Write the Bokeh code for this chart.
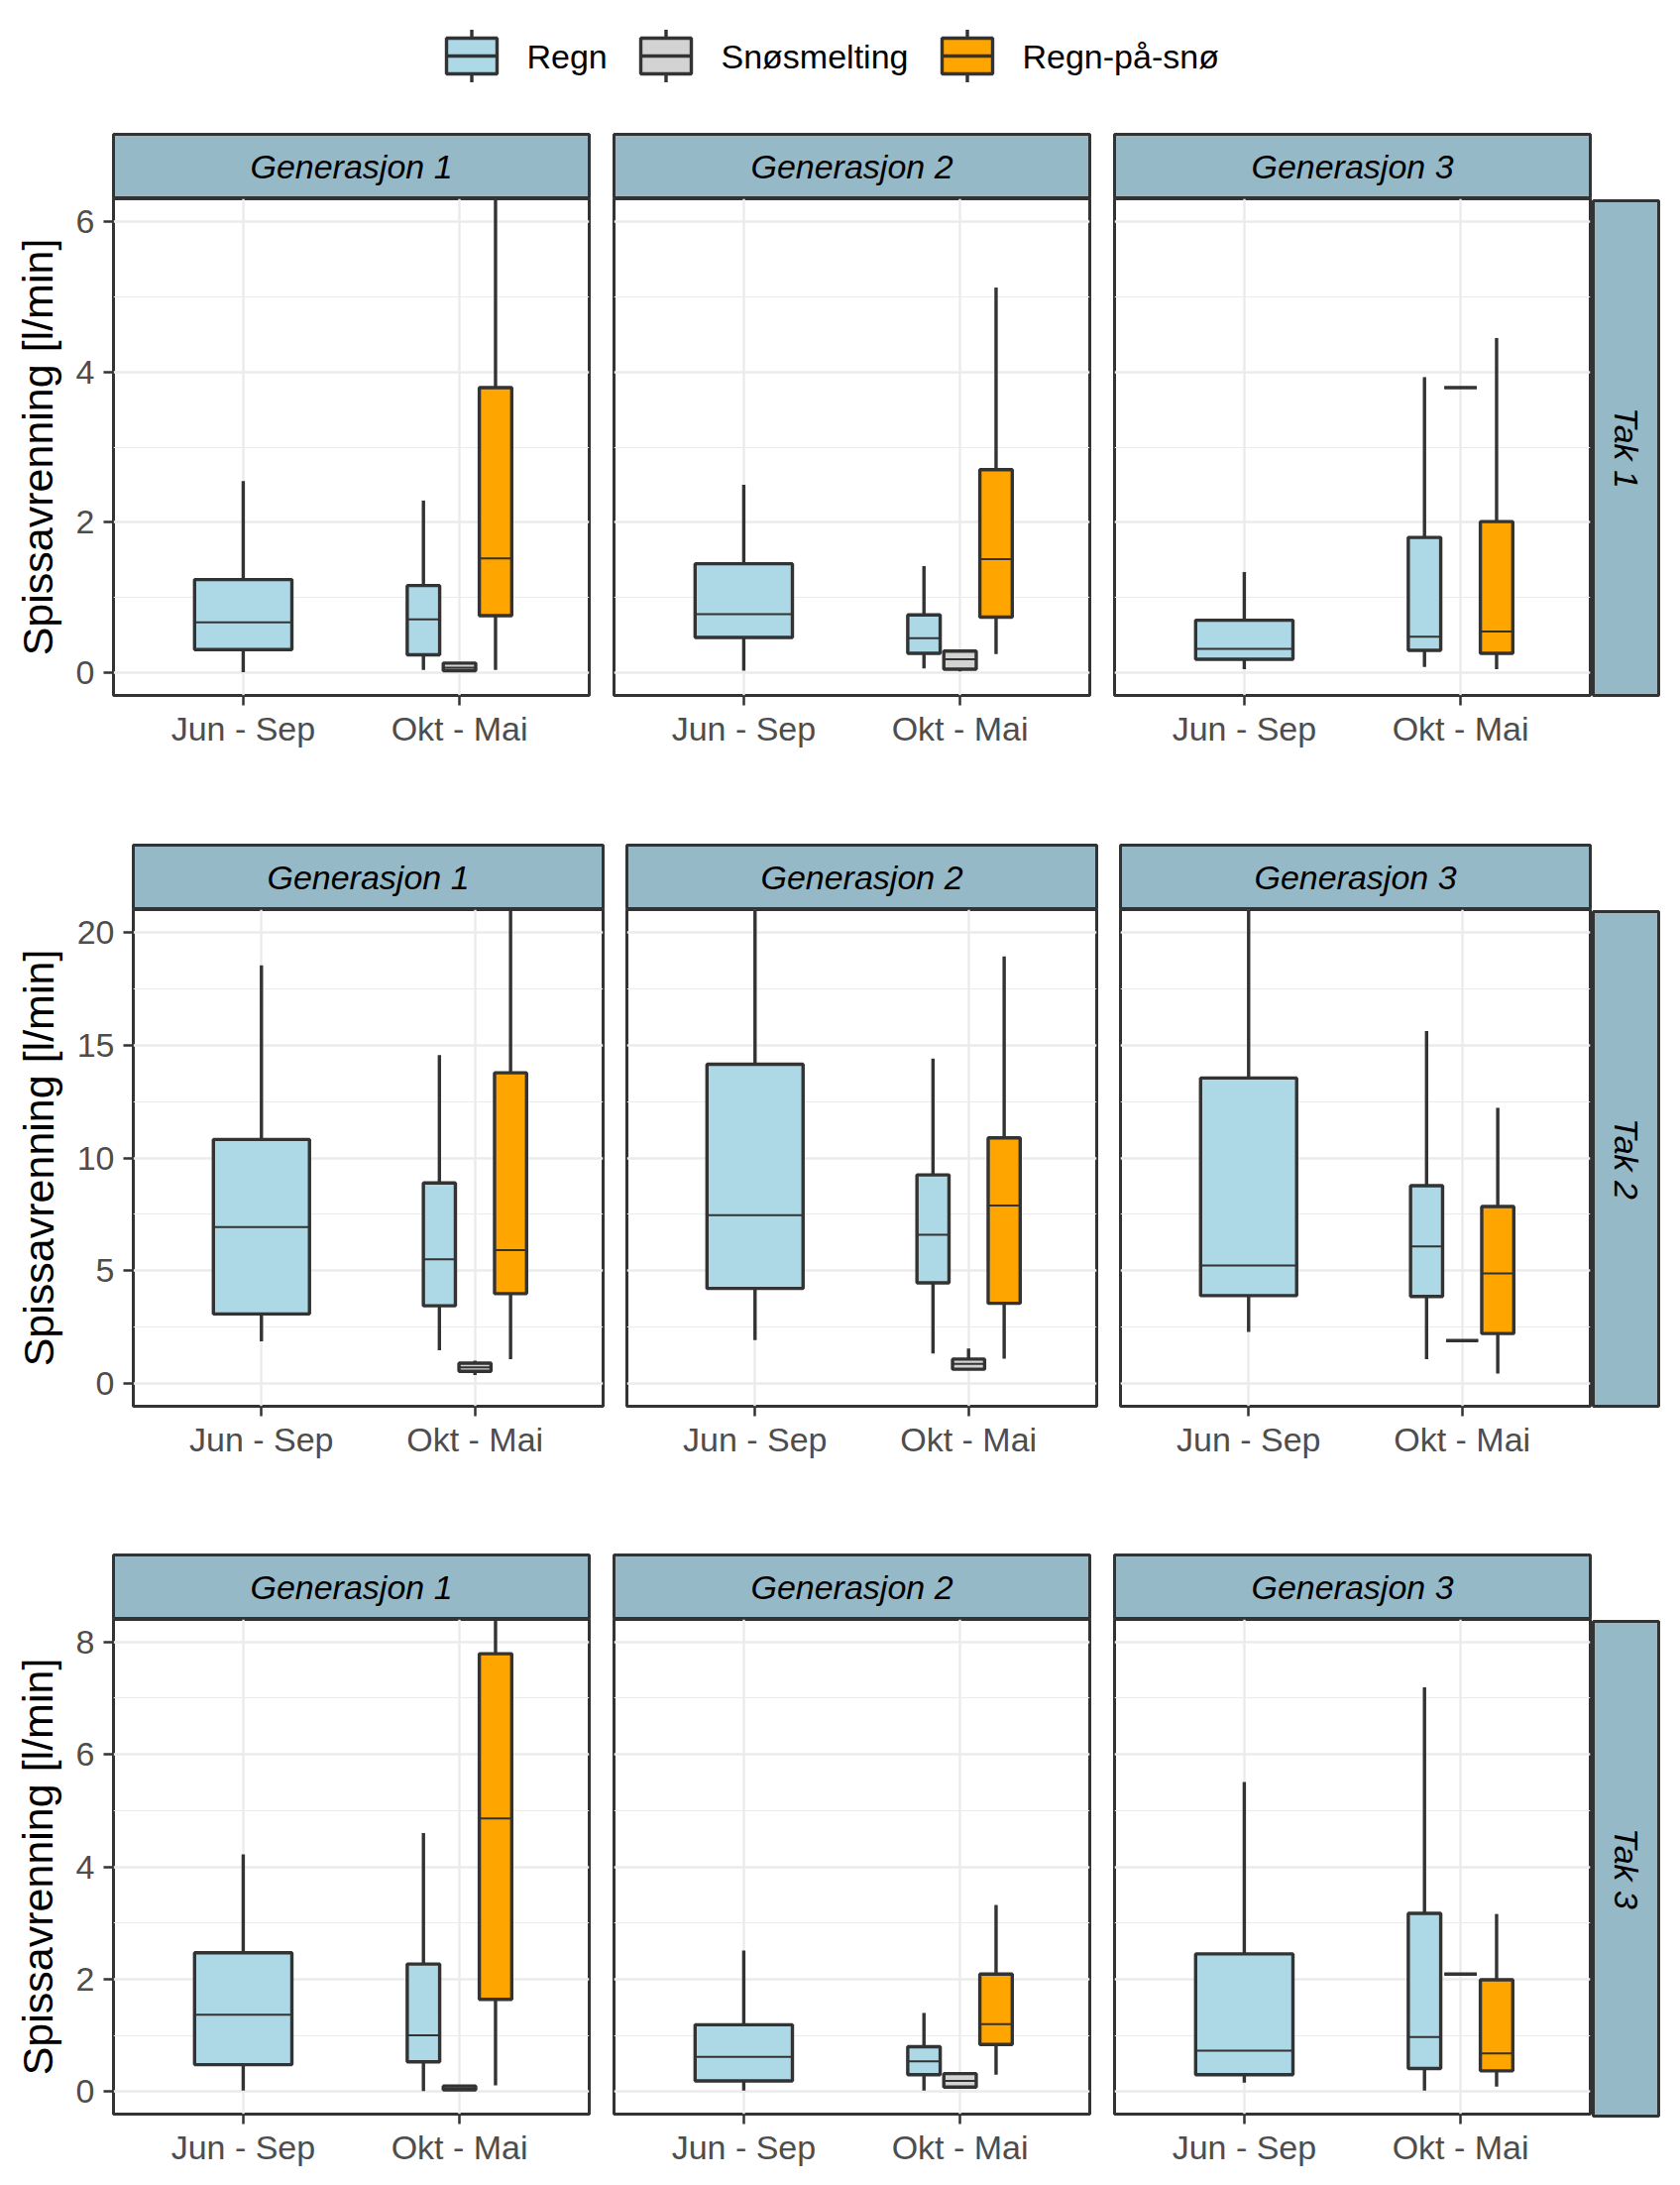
import math
from bokeh.plotting import figure
from bokeh.models import Range1d, FixedTicker, Label, ColumnDataSource, Spacer, Grid
from bokeh.layouts import row, column
from bokeh.embed import file_html
from bokeh.resources import INLINE
from bokeh.core.properties import value

# ---------------- data ----------------
seasons = ["Jun - Sep", "Okt - Mai"]
generations = ["Generasjon 1", "Generasjon 2", "Generasjon 3"]
roofs = ["Tak 1", "Tak 2", "Tak 3"]
event_types = ["Regn", "Snøsmelting", "Regn-på-snø"]
type_colors = ["#ADD8E6", "#D3D3D3", "#FFA500"]

y_limits = [(0, 6), (0, 20), (0, 8)]
y_major = [[0, 2, 4, 6], [0, 5, 10, 15, 20], [0, 2, 4, 6, 8]]
y_minor = [[1, 3, 5], [2.5, 7.5, 12.5, 17.5], [1, 3, 5, 7]]

# one entry per box: roof, generation, season, event type
box_roof = ["Tak 1"] * 12 + ["Tak 2"] * 12 + ["Tak 3"] * 12
box_gen = (["Generasjon 1"] * 4 + ["Generasjon 2"] * 4 + ["Generasjon 3"] * 4) * 3
box_season = ["Jun - Sep", "Okt - Mai", "Okt - Mai", "Okt - Mai"] * 9
box_type = ["Regn", "Regn", "Snøsmelting", "Regn-på-snø"] * 9

box_lo = [0.01, 0.04, 0.02, 0.04,   0.03, 0.06, 0.02, 0.25,   0.05, 0.08, 3.79, 0.05,
          1.88, 1.48, 0.38, 1.09,   1.93, 1.34, 0.64, 1.11,   2.29, 1.09, 1.91, 0.45,
          0.02, 0.01, 0.02, 0.11,   0.02, 0.02, 0.08, 0.30,   0.16, 0.02, 2.09, 0.09]
box_q1 = [0.31, 0.24, 0.03, 0.76,   0.47, 0.26, 0.05, 0.74,   0.18, 0.30, 3.79, 0.26,
          3.09, 3.45, 0.55, 3.99,   4.22, 4.47, 0.64, 3.56,   3.90, 3.86, 1.91, 2.22,
          0.48, 0.53, 0.03, 1.64,   0.19, 0.30, 0.08, 0.84,   0.30, 0.41, 2.09, 0.37]
box_med = [0.67, 0.71, 0.07, 1.52,  0.78, 0.46, 0.18, 1.51,   0.32, 0.48, 3.79, 0.55,
           6.94, 5.51, 0.72, 5.92,  7.46, 6.60, 0.88, 7.89,   5.24, 6.08, 1.91, 4.88,
           1.37, 1.00, 0.06, 4.86,  0.62, 0.54, 0.19, 1.20,   0.73, 0.97, 2.09, 0.68]
box_q3 = [1.24, 1.16, 0.13, 3.79,   1.45, 0.77, 0.29, 2.70,   0.70, 1.80, 3.79, 2.01,
          10.82, 8.89, 0.91, 13.77, 14.15, 9.25, 1.09, 10.89, 13.54, 8.77, 1.91, 7.85,
          2.47, 2.27, 0.10, 7.79,   1.19, 0.80, 0.32, 2.09,   2.45, 3.17, 2.09, 1.99]
box_hi = [2.55, 2.29, 0.14, 7.20,   2.50, 1.42, 0.29, 5.12,   1.34, 3.93, 3.79, 4.45,
          18.53, 14.56, 1.02, 23.50, 22.00, 14.40, 1.56, 18.93, 24.00, 15.62, 1.91, 12.22,
          4.22, 4.60, 0.11, 9.60,   2.51, 1.40, 0.32, 3.32,   5.51, 7.19, 2.09, 3.16]

# ---------------- style / layout ----------------
FONT = "Liberation Sans"
DARK = "#333333"
STRIP_FILL = "#96B9C8"
GRID = "#EBEBEB"
TICK_TEXT = "#4D4D4D"

OFF_X = 9
OFF_Y = 9
LEG_H = 124
STRIP_H = 67
FRAME_H = 501
ROW_BOTTOM = [149, 148, 53]
ROW_LEFT = [105, 125, 105]
ROW_W = [480, 474, 480]
ROW_GAP = [25, 24, 25]
RS_GAP = 3
RS_W = 66
TOTAL_W = 1664
R_PAD = 2
BORDER_W = 3
BOX_LW = 3.4
MED_LW = 2

# dodge positions (ggplot-like: total width 0.5, padding 10%)
N = len(box_lo)
box_x = [0.0] * N
box_w = [0.0] * N
groups = {}
for i in range(N):
    groups.setdefault((box_roof[i], box_gen[i], box_season[i]), []).append(i)
for (rf, gn, se), idxs in groups.items():
    idxs = sorted(idxs, key=lambda j: event_types.index(box_type[j]))
    n = len(idxs)
    slot = 0.5 / n
    for k, j in enumerate(idxs):
        box_x[j] = seasons.index(se) + 1 - 0.25 + slot * (k + 0.5)
        box_w[j] = slot * 0.9


def make_strip(text, w, h, vertical=False, left=2, right=2, top=2, bottom=0):
    s = figure(width=w, height=h, x_range=Range1d(0, 1), y_range=Range1d(0, 1),
               toolbar_location=None, output_backend="svg",
               x_axis_location=None, y_axis_location=None,
               min_border_left=left, min_border_right=right,
               min_border_top=top, min_border_bottom=bottom)
    s.xgrid.visible = False
    s.ygrid.visible = False
    s.background_fill_color = STRIP_FILL
    s.border_fill_color = "white"
    s.outline_line_color = DARK
    s.outline_line_width = BORDER_W
    s.outline_line_alpha = 1
    s.add_layout(Label(x=0.5, y=0.5, text=text, text_align="center",
                       text_baseline="middle", text_font=FONT,
                       text_font_style="italic", text_font_size="34px",
                       text_color="black", angle=-math.pi / 2 if vertical else 0))
    return s


def make_panel(r, g):
    lb = ROW_LEFT[r] if g == 0 else ROW_GAP[r] - R_PAD
    W = ROW_W[r]
    lo_lim, hi_lim = y_limits[r]
    pad = 0.05 * (hi_lim - lo_lim)
    p = figure(width=lb + W + R_PAD, height=FRAME_H + ROW_BOTTOM[r],
               x_range=Range1d(0.4, 2.6), y_range=Range1d(lo_lim - pad, hi_lim + pad),
               toolbar_location=None, output_backend="svg",
               y_axis_location="left" if g == 0 else None,
               min_border_left=lb, min_border_right=R_PAD, min_border_top=0,
               min_border_bottom=ROW_BOTTOM[r])
    p.background_fill_color = "white"
    p.border_fill_color = "white"
    p.outline_line_color = DARK
    p.outline_line_width = BORDER_W
    p.outline_line_alpha = 1

    xt = FixedTicker(ticks=[1, 2])
    yt = FixedTicker(ticks=y_major[r], minor_ticks=y_minor[r])

    p.xaxis.ticker = xt
    p.xaxis.major_label_overrides = {1: seasons[0], 2: seasons[1]}
    p.xaxis.axis_line_color = None
    p.xaxis.major_tick_line_color = DARK
    p.xaxis.major_tick_line_width = 2.5
    p.xaxis.major_tick_out = 10
    p.xaxis.major_tick_in = 0
    p.xaxis.minor_tick_line_color = None
    p.xaxis.major_label_standoff = 4
    p.xaxis.major_label_text_font = FONT
    p.xaxis.major_label_text_font_size = "34px"
    p.xaxis.major_label_text_color = TICK_TEXT

    if g == 0:
        p.yaxis.ticker = yt
        p.yaxis.axis_line_color = None
        p.yaxis.major_tick_line_color = DARK
        p.yaxis.major_tick_line_width = 2.5
        p.yaxis.major_tick_out = 10
        p.yaxis.major_tick_in = 0
        p.yaxis.minor_tick_line_color = None
        p.yaxis.minor_tick_out = 0
        p.yaxis.minor_tick_in = 0
        p.yaxis.major_label_standoff = 9
        p.yaxis.major_label_text_font = FONT
        p.yaxis.major_label_text_font_size = "34px"
        p.yaxis.major_label_text_color = TICK_TEXT
        p.yaxis.axis_label = "Spissavrenning [l/min]"
        p.yaxis.axis_label_text_font = FONT
        p.yaxis.axis_label_text_font_size = "43px"
        p.yaxis.axis_label_text_font_style = "normal"
        p.yaxis.axis_label_text_color = "black"
        p.yaxis.axis_label_standoff = 12

    if len(p.xgrid) == 0:
        p.add_layout(Grid(dimension=0, ticker=xt), "center")
    if len(p.ygrid) == 0:
        p.add_layout(Grid(dimension=1, ticker=yt), "center")
    for gr in p.xgrid:
        gr.ticker = xt
        gr.grid_line_color = GRID
        gr.grid_line_width = 2.4
        gr.minor_grid_line_color = None
    for gr in p.ygrid:
        gr.ticker = yt
        gr.grid_line_color = GRID
        gr.grid_line_width = 2.4
        gr.minor_grid_line_color = GRID
        gr.minor_grid_line_width = 1.2

    idx = [i for i in range(N) if box_roof[i] == roofs[r] and box_gen[i] == generations[g]]
    src = ColumnDataSource(dict(
        x=[box_x[i] for i in idx],
        w=[box_w[i] for i in idx],
        xl=[box_x[i] - box_w[i] / 2 for i in idx],
        xr=[box_x[i] + box_w[i] / 2 for i in idx],
        lo=[box_lo[i] for i in idx],
        q1=[box_q1[i] for i in idx],
        med=[box_med[i] for i in idx],
        q3=[box_q3[i] for i in idx],
        hi=[box_hi[i] for i in idx],
        color=[type_colors[event_types.index(box_type[i])] for i in idx],
    ))
    p.segment(x0="x", y0="q3", x1="x", y1="hi", source=src, line_color=DARK, line_width=BOX_LW)
    p.segment(x0="x", y0="lo", x1="x", y1="q1", source=src, line_color=DARK, line_width=BOX_LW)
    p.vbar(x="x", width="w", bottom="q1", top="q3", source=src,
           fill_color="color", line_color=DARK, line_width=BOX_LW)
    p.segment(x0="xl", y0="med", x1="xr", y1="med", source=src, line_color=DARK, line_width=MED_LW)
    return p, lb


# ---------------- legend ----------------
leg = figure(width=TOTAL_W, height=LEG_H, x_range=Range1d(0, TOTAL_W), y_range=Range1d(LEG_H, 0),
             toolbar_location=None, output_backend="svg",
             x_axis_location=None, y_axis_location=None,
             min_border_left=0, min_border_right=0, min_border_top=0, min_border_bottom=0)
leg.xgrid.visible = False
leg.ygrid.visible = False
leg.outline_line_color = None
leg.background_fill_color = "white"
key_left = [441, 637, 941]
key_w, key_h, whisk = 51, 36, 26.5
key_cy = 47
lsrc = ColumnDataSource(dict(
    cx=[k + key_w / 2 for k in key_left],
    xl=[k for k in key_left],
    xr=[k + key_w for k in key_left],
    wt=[key_cy - whisk] * 3,
    wb=[key_cy + whisk] * 3,
    top=[key_cy - key_h / 2] * 3,
    bot=[key_cy + key_h / 2] * 3,
    cy=[key_cy] * 3,
    tx=[k + 81 for k in key_left],
    label=event_types,
    color=type_colors,
))
leg.segment(x0="cx", y0="wt", x1="cx", y1="wb", source=lsrc, line_color=DARK, line_width=BOX_LW)
leg.vbar(x="cx", width=key_w, top="top", bottom="bot", source=lsrc,
         fill_color="color", line_color=DARK, line_width=BOX_LW)
leg.segment(x0="xl", y0="cy", x1="xr", y1="cy", source=lsrc, line_color=DARK, line_width=BOX_LW)
leg.text(x="tx", y="cy", text="label", source=lsrc, text_font=value(FONT),
         text_font_size="34px", text_color="black", text_baseline="middle", text_align="left")

# ---------------- assemble ----------------
blocks = [leg]
for r in range(3):
    cols = []
    for g in range(3):
        p, lb = make_panel(r, g)
        st = make_strip(generations[g], ROW_W[r] + 4, STRIP_H)
        cols.append(column(row(Spacer(width=lb - 2, height=STRIP_H), st), p))
    rs = make_strip(roofs[r], RS_GAP - R_PAD + RS_W + 2, FRAME_H + ROW_BOTTOM[r], vertical=True,
                    left=RS_GAP - R_PAD, right=2, top=2, bottom=ROW_BOTTOM[r])
    cols.append(column(Spacer(width=RS_GAP - R_PAD + RS_W + 2, height=STRIP_H), rs))
    blocks.append(row(*cols))

layout = column(Spacer(width=10, height=OFF_Y), row(Spacer(width=OFF_X, height=10), column(*blocks)))
open("out.html", "w").write(file_html(layout, INLINE))
